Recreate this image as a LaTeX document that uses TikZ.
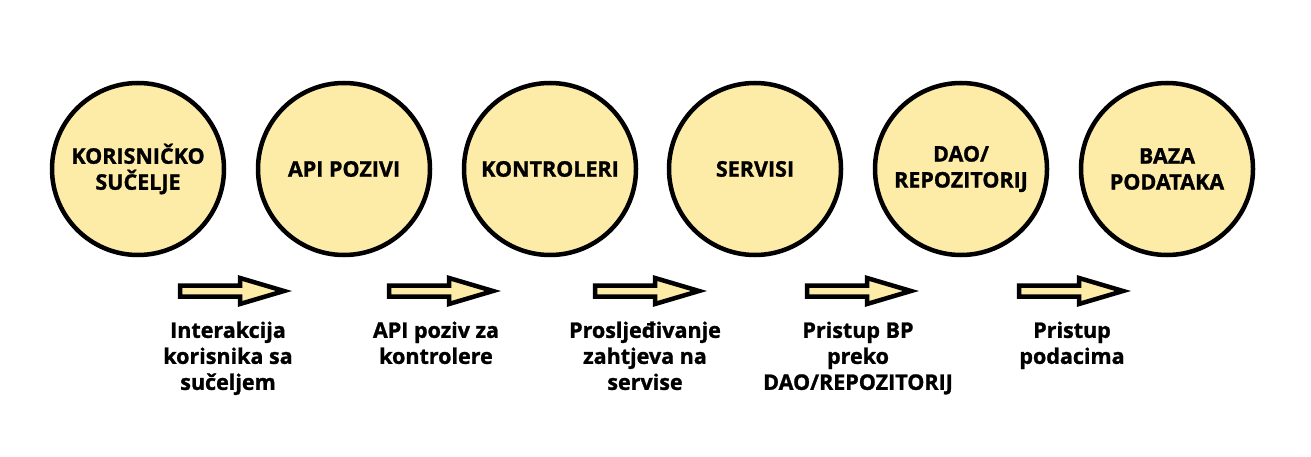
\documentclass[tikz,border=0pt]{standalone}
\usepackage{fontspec}
\setmainfont{Open Sans}[BoldFeatures={FakeBold=1.2}]
\usetikzlibrary{positioning}
\definecolor{sloj}{RGB}{253,235,168}
\tikzset{
	sloj/.style={circle, draw=black, fill=sloj, line width=4.5pt, minimum size=172pt, inner sep=0pt, align=center, font=\fontsize{21.5}{26}\selectfont\bfseries},
	opis/.style={align=center, font=\fontsize{21.5}{26}\selectfont\bfseries},
	strelica/.style={draw=black, fill=sloj, line width=4.5pt, line join=miter}
}
\begin{document}
\begin{tikzpicture}[x=1pt, y=-1pt]
			%%%%% START %%%%%
			\useasboundingbox (0, 0) rectangle (1311, 457);
			
			\node[sloj] (ui) at (138, 169) {KORISNIČKO\\SUČELJE};
			\node[sloj] (api) at (344, 169) {API POZIVI};
			\node[sloj] (ctrl) at (550, 169) {KONTROLERI};
			\node[sloj] (srv) at (755, 169) {SERVISI};
			\node[sloj] (dao) at (961, 169) {DAO/\\REPOZITORIJ};
			\node[sloj] (db) at (1167, 169) {BAZA\\PODATAKA};
			
			\foreach \x/\ime in {180/a1, 389/a2, 595/a3, 807/a4, 1019/a5}{
				\coordinate (\ime) at (\x, 291);
				\draw[strelica] (\ime) ++(0, -5.5) -- ++(60, 0) -- ++(0, -7.5) -- ++(44, 13) -- ++(-44, 13) -- ++(0, -7.5) -- ++(-60, 0) -- cycle;
			}
			
			\node[opis, anchor=north] (o1) at (228, 318) {Interakcija\\korisnika sa\\sučeljem};
			\node[opis, anchor=north] (o2) at (436, 318) {API poziv za\\kontrolere};
			\node[opis, anchor=north] (o3) at (645, 318) {Prosljeđivanje\\zahtjeva na\\servise};
			\node[opis, anchor=north] (o4) at (858, 318) {Pristup BP\\preko\\DAO/REPOZITORIJ};
			\node[opis, anchor=north] (o5) at (1072, 318) {Pristup\\podacima};
			
			%%%%% END %%%%%
\end{tikzpicture}
\end{document}
